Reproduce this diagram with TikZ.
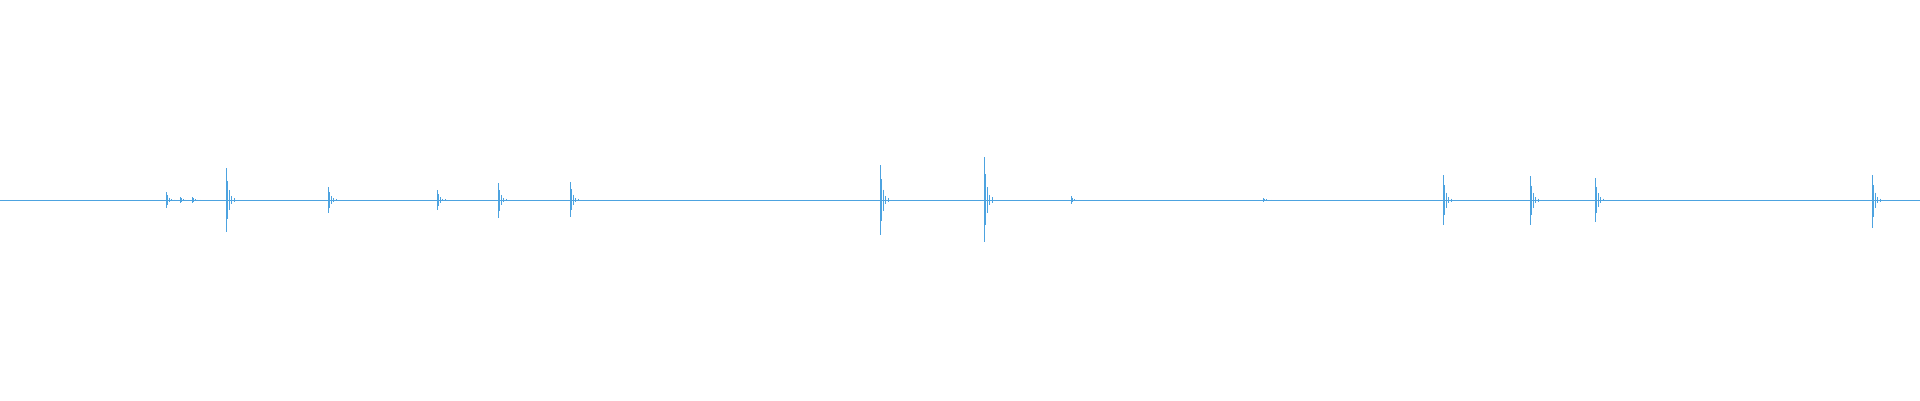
\documentclass[tikz,border=0pt]{standalone}
\usepackage{tikz}
\definecolor{wave}{RGB}{77,163,224}
\begin{document}
\begin{tikzpicture}[x=1pt,y=1pt,
      wave line/.style={color=wave, line width=0.6pt},
      ]
      \useasboundingbox (0,0) rectangle (1920,400);
      % baseline
      \draw [wave line] (0,200) -- (1920,200);
      % spikes: x / up / down
      \foreach \x/\u/\d in {166/8/8, 180/3/3, 192/3/3, 226/32/32, 328/13/13,
          437/10/10, 498/17/18, 570/18/17, 880/35/35, 984/43/42, 1071/4/4,
          1263/2/2, 1443/25/25, 1530/24/25, 1595/22/22, 1872/25/28}
      {
        \draw [wave line] (\x,200+\u) -- (\x,200-\d);
        \draw [wave line] (\x+1.5,200+0.6*\u) -- (\x+1.5,200-0.6*\d);
        \draw [wave line] (\x+3,200+0.3*\u) -- (\x+3,200-0.3*\d);
        \draw [wave line] (\x+5,200+0.12*\u) -- (\x+5,200-0.12*\d);
        \draw [wave line] (\x+8,200+0.06*\u) -- (\x+8,200-0.06*\d);
      }
      \end{tikzpicture}
\end{document}
